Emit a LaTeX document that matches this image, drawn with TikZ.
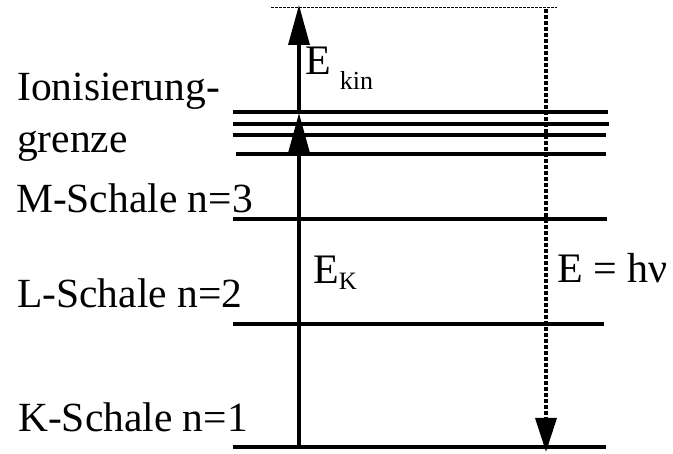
\documentclass[tikz,border=0pt]{standalone}
\usepackage{fontspec}
\setmainfont{Liberation Serif}
\usetikzlibrary{arrows.meta}

\tikzset{
  level/.style={line width=3.2pt},
  jump/.style={line width=3.4pt, -{Triangle[length=40pt, width=21pt]}},
  emit/.style={line width=3.4pt, dash pattern=on 4pt off 2pt, -{Triangle[length=34pt, width=21pt]}},
  shelltxt/.style={anchor=base west, inner sep=0pt, font=\fontsize{41.5}{49}\selectfont},
  etxt/.style={anchor=base west, inner sep=0pt, font=\fontsize{42}{50}\selectfont}
}

\begin{document}
\begin{tikzpicture}[x=1pt, y=-1pt]
  \useasboundingbox (0,0) rectangle (673,454);
  % energy levels
  \draw[level] (233,112) -- (608,112);
  \draw[level] (233,124) -- (609,124);
  \draw[level] (233,135) -- (606,135);
  \draw[level] (236,154) -- (606,154);
  \draw[level] (233,219) -- (607,219);
  \draw[level] (233,324) -- (604,324);
  \draw[level] (233,447) -- (606,447);
  % top edge
  \draw[line width=1pt, dash pattern=on 3pt off 1pt] (271,8) -- (557,8);
  % points of the transitions
  \coordinate (kstart) at (299,448);
  \coordinate (ion) at (299,113);
  \coordinate (top) at (299,5);
  \coordinate (ptop) at (546,9);
  \coordinate (pend) at (546,452);
  \draw[jump] (kstart) -- (ion);
  \draw[jump] (ion) -- (top);
  \draw[emit] (ptop) -- (pend);
  % labels
  \node[shelltxt] (ion1) at (17,101) {Ionisierung-};
  \node[shelltxt] (ion2) at (17,153) {grenze};
  \node[shelltxt] (mshell) at (16,213) {M-Schale n=3};
  \node[shelltxt] (lshell) at (17,308) {L-Schale n=2};
  \node[shelltxt] (kshell) at (18,432) {K-Schale n=1};
  \node[etxt] (ekin) at (305,75) {E\hspace{9pt}\raisebox{-15pt}{\fontsize{26}{30}\selectfont kin}};
  \node[etxt] (ek) at (313,284) {E\raisebox{-6pt}{\fontsize{25}{30}\selectfont K}};
  \node[etxt] (ehv) at (557,283) {E = hν};
\end{tikzpicture}
\end{document}
